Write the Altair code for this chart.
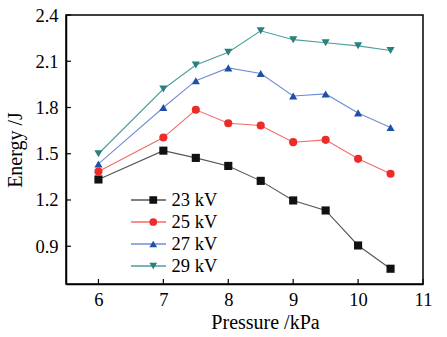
import altair as alt
import pandas as pd

pressure = [6, 7, 7.5, 8, 8.5, 9, 9.5, 10, 10.5]
e23 = [1.333, 1.52, 1.473, 1.421, 1.324, 1.197, 1.132, 0.905, 0.754]
e25 = [1.385, 1.605, 1.785, 1.698, 1.683, 1.575, 1.59, 1.467, 1.37]
e27 = [1.434, 1.80, 1.974, 2.057, 2.02, 1.875, 1.888, 1.765, 1.67]
e29 = [1.50, 1.92, 2.076, 2.158, 2.298, 2.24, 2.22, 2.20, 2.17]
series_names = ["23 kV", "25 kV", "27 kV", "29 kV"]
marker_colors = ["#111111", "#ee2b2b", "#1f4fa8", "#2a817b"]
line_colors = ["#555555", "#f46a6a", "#6f8fd6", "#4e9f9b"]
shapes = ["square", "circle", "triangle-up", "triangle-down"]
x_ticks = [6, 7, 8, 9, 10, 11]
y_ticks = [0.9, 1.2, 1.5, 1.8, 2.1, 2.4]

line_keys = [n + " line" for n in series_names]
rows = []
for name, key, vals in zip(series_names, line_keys, [e23, e25, e27, e29]):
    for p, v in zip(pressure, vals):
        rows.append({"p": p, "e": v, "s": name, "sl": key})
df = pd.DataFrame(rows)

W, H = 357, 269
FONT = "Liberation Serif"

xs = alt.Scale(domain=[5.5, 11], nice=False, zero=False)
ys = alt.Scale(domain=[0.655, 2.4], nice=False, zero=False)

xax = alt.Axis(values=x_ticks, ticks=False, grid=False, labelPadding=6,
               format=".0f",
               title="Pressure /kPa", titleX=199, titleY=38,
               titleBaseline="middle", titleAlign="center", labelFlush=False)
yax = alt.Axis(values=y_ticks, ticks=False, grid=False, labelPadding=8,
               format=".1f", title="Energy /J", titleX=-51, titleY=134.5,
               titleAngle=-90, titleAlign="center", titleBaseline="middle",
               labelFlush=False)

leg_common = dict(orient="none", title=None, labelFont=FONT, labelFontSize=18.5,
                  labelColor="black", rowPadding=3, padding=0, clipHeight=18)

lines = alt.Chart(df).mark_line(strokeWidth=1.1).encode(
    x=alt.X("p:Q", scale=xs, axis=xax),
    y=alt.Y("e:Q", scale=ys, axis=yax),
    stroke=alt.Stroke("sl:N", scale=alt.Scale(domain=line_keys, range=line_colors),
                      legend=alt.Legend(symbolType="M-1,0H1", symbolSize=1225,
                                        symbolStrokeWidth=1.6, labelExpr="''",
                                        labelOpacity=0, symbolOpacity=1,
                                        legendX=64, legendY=176, **leg_common)),
)

points = alt.Chart(df).mark_point(filled=True, opacity=1, size=66, strokeWidth=0).encode(
    x=alt.X("p:Q", scale=xs),
    y=alt.Y("e:Q", scale=ys),
    fill=alt.Fill("s:N", scale=alt.Scale(domain=series_names, range=marker_colors),
                  legend=alt.Legend(symbolSize=60, symbolOpacity=1, symbolStrokeWidth=0,
                                    labelOffset=9, legendX=78, legendY=176,
                                    **leg_common)),
    shape=alt.Shape("s:N", scale=alt.Scale(domain=series_names, range=shapes),
                    legend=alt.Legend(symbolSize=60, symbolOpacity=1, symbolStrokeWidth=0,
                                      labelOffset=9, legendX=78, legendY=176,
                                      **leg_common)),
)

xt = alt.Chart(pd.DataFrame({"v": x_ticks})).mark_rule(color="black", strokeWidth=1.2).encode(
    x=alt.X("v:Q", scale=xs), y=alt.value(H), y2=alt.value(H - 5))
yt = alt.Chart(pd.DataFrame({"v": y_ticks})).mark_rule(color="black", strokeWidth=1.2).encode(
    y=alt.Y("v:Q", scale=ys), x=alt.value(0), x2=alt.value(5))

chart = alt.layer(lines, points, xt, yt).properties(
    width=W, height=H, background="white",
    autosize=alt.AutoSizeParams(type="none"),
    padding={"left": 66, "top": 15, "right": 24, "bottom": 53},
).configure_view(stroke="black", strokeWidth=1.5).configure_axis(
    domainColor="black", domainWidth=1.5, labelFont=FONT, labelFontSize=18.5,
    labelColor="black", titleFont=FONT, titleFontSize=20, titleColor="black",
    titleFontWeight="normal",
)

chart.save("out.html", embed_options={"renderer": "svg", "actions": False})
